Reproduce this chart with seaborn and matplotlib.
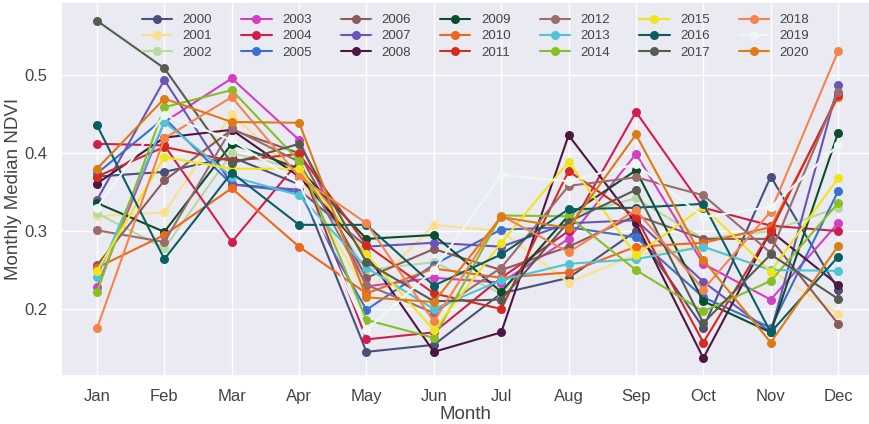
import matplotlib
matplotlib.use("Agg")
import matplotlib.pyplot as plt
import pandas as pd
import seaborn as sns

# Monthly median NDVI per year
months = ['Jan', 'Feb', 'Mar', 'Apr', 'May', 'Jun', 'Jul', 'Aug', 'Sep', 'Oct', 'Nov', 'Dec']
years = [str(y) for y in range(2000, 2021)]

ndvi_2000 = [0.370, 0.376, 0.395, 0.360, 0.145, 0.154, 0.220, 0.240, 0.300, 0.176, 0.370, 0.225]
ndvi_2001 = [0.319, 0.324, 0.450, 0.370, 0.220, 0.308, 0.300, 0.234, 0.270, 0.280, 0.250, 0.194]
ndvi_2002 = [0.323, 0.278, 0.400, 0.380, 0.250, 0.260, 0.220, 0.320, 0.342, 0.290, 0.300, 0.330]
ndvi_2003 = [0.228, 0.440, 0.496, 0.417, 0.229, 0.240, 0.234, 0.290, 0.399, 0.258, 0.212, 0.310]
ndvi_2004 = [0.412, 0.410, 0.286, 0.390, 0.161, 0.170, 0.240, 0.300, 0.453, 0.330, 0.307, 0.300]
ndvi_2005 = [0.374, 0.445, 0.360, 0.350, 0.199, 0.257, 0.302, 0.305, 0.292, 0.215, 0.176, 0.351]
ndvi_2006 = [0.256, 0.365, 0.430, 0.400, 0.240, 0.277, 0.250, 0.280, 0.320, 0.290, 0.290, 0.181]
ndvi_2007 = [0.340, 0.494, 0.360, 0.353, 0.280, 0.285, 0.280, 0.310, 0.314, 0.235, 0.170, 0.487]
ndvi_2008 = [0.361, 0.420, 0.430, 0.370, 0.270, 0.145, 0.170, 0.423, 0.310, 0.137, 0.300, 0.231]
ndvi_2009 = [0.336, 0.299, 0.412, 0.380, 0.290, 0.295, 0.222, 0.320, 0.378, 0.210, 0.170, 0.426]
ndvi_2010 = [0.253, 0.295, 0.355, 0.280, 0.220, 0.252, 0.240, 0.247, 0.280, 0.285, 0.305, 0.472]
ndvi_2011 = [0.370, 0.408, 0.390, 0.399, 0.282, 0.220, 0.200, 0.377, 0.318, 0.157, 0.300, 0.475]
ndvi_2012 = [0.301, 0.286, 0.432, 0.389, 0.231, 0.195, 0.253, 0.358, 0.369, 0.346, 0.272, 0.479]
ndvi_2013 = [0.241, 0.440, 0.370, 0.346, 0.253, 0.200, 0.237, 0.258, 0.264, 0.280, 0.250, 0.249]
ndvi_2014 = [0.222, 0.459, 0.481, 0.390, 0.186, 0.163, 0.320, 0.319, 0.250, 0.197, 0.236, 0.336]
ndvi_2015 = [0.249, 0.395, 0.380, 0.380, 0.270, 0.173, 0.285, 0.389, 0.269, 0.331, 0.248, 0.368]
ndvi_2016 = [0.436, 0.264, 0.375, 0.308, 0.308, 0.230, 0.270, 0.328, 0.330, 0.335, 0.170, 0.267]
ndvi_2017 = [0.570, 0.509, 0.387, 0.412, 0.260, 0.210, 0.212, 0.312, 0.353, 0.182, 0.270, 0.213]
ndvi_2018 = [0.175, 0.419, 0.472, 0.370, 0.310, 0.184, 0.320, 0.273, 0.327, 0.225, 0.325, 0.531]
ndvi_2019 = [0.330, 0.449, 0.417, 0.361, 0.173, 0.250, 0.372, 0.364, 0.386, 0.318, 0.331, 0.410]
ndvi_2020 = [0.380, 0.470, 0.440, 0.439, 0.215, 0.209, 0.318, 0.304, 0.424, 0.263, 0.157, 0.281]

colors = ['#4c4f7a', '#fbe08c', '#b5daa2', '#d040c0', '#d01e4e', '#3b6fd2', '#8c5a5a',
          '#6a54b6', '#4e1643', '#0b4d2c', '#f0661c', '#d42a20', '#9a6c6c', '#4fc4d4',
          '#86c024', '#f2e41c', '#0a5e62', '#565c50', '#f5844a', '#eef7f4', '#de7b12']

all_values = [ndvi_2000, ndvi_2001, ndvi_2002, ndvi_2003, ndvi_2004, ndvi_2005, ndvi_2006,
              ndvi_2007, ndvi_2008, ndvi_2009, ndvi_2010, ndvi_2011, ndvi_2012, ndvi_2013,
              ndvi_2014, ndvi_2015, ndvi_2016, ndvi_2017, ndvi_2018, ndvi_2019, ndvi_2020]

rows = []
for year, vals in zip(years, all_values):
  for m, v in zip(months, vals):
    rows.append({'year': year, 'month': m, 'ndvi': v})
df = pd.DataFrame(rows)

sns.set_theme(style='darkgrid')
plt.rcParams['font.family'] = ['Liberation Sans', 'DejaVu Sans']

fig = plt.figure(figsize=(8.7, 4.24), dpi=100)
ax = fig.add_axes([0.0701, 0.1132, 0.93, 0.882])

sns.lineplot(data=df, x='month', y='ndvi', hue='year', palette=dict(zip(years, colors)),
             marker='o', markersize=6.5, markeredgewidth=0, linewidth=1.5, sort=False, ax=ax)

ax.set_xlim(-0.534, 11.475)
ax.set_ylim(0.114, 0.594)
ax.set_yticks([0.2, 0.3, 0.4, 0.5])
ax.set_xlabel('Month', fontsize=13.5, color='#444444', labelpad=1)
ax.set_ylabel('Monthly Median NDVI', fontsize=13.5, color='#444444', labelpad=2)
ax.tick_params(labelsize=12, colors='#444444')

handles, labels = ax.get_legend_handles_labels()
ax.legend(handles, labels, ncol=7, frameon=False, fontsize=9.5, loc='upper left',
          bbox_to_anchor=(0.085, 1.0), labelspacing=0.3, handlelength=2.3,
          handletextpad=0.8, columnspacing=2.2, labelcolor='#444444')

fig.savefig('out.png', dpi=100)
